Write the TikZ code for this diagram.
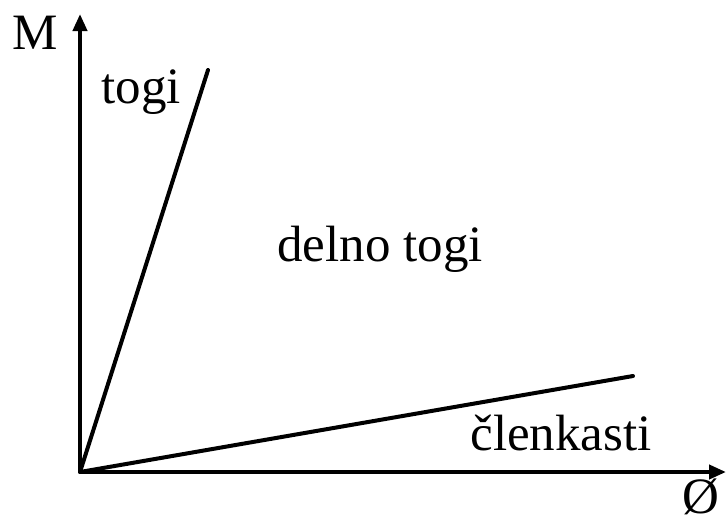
\documentclass[tikz,border=0pt]{standalone}
\usepackage{fontspec}
\setmainfont{Liberation Serif}
\usetikzlibrary{arrows.meta}
\begin{document}
\begin{tikzpicture}[x=1pt,y=-1pt,
  axis/.style={line width=4pt,-{Triangle[length=17pt,width=14pt]}},
  curve/.style={line width=4pt,line cap=round},
  lbl/.style={inner sep=0pt,font=\fontsize{51}{53}\selectfont}]
\useasboundingbox (0,0) rectangle (727,525);
\coordinate (O) at (80,472);
\coordinate (ytip) at (80,14);
\coordinate (xtip) at (726,472);
\coordinate (t) at (208,70);
\coordinate (c) at (633,376);
\draw[axis] (O) -- (ytip);
\draw[axis] (O) -- (xtip);
\draw[curve] (O) -- (t);
\draw[curve] (O) -- (c);
\node[lbl] (m) at (35,33) {M};
\node[lbl] (tg) at (141,92) {togi};
\node[lbl] (dt) at (380,249) {delno togi};
\node[lbl] (cl) at (561,433) {členkasti};
\node[lbl] (phi) at (701,497) {Ø};
\end{tikzpicture}
\end{document}
